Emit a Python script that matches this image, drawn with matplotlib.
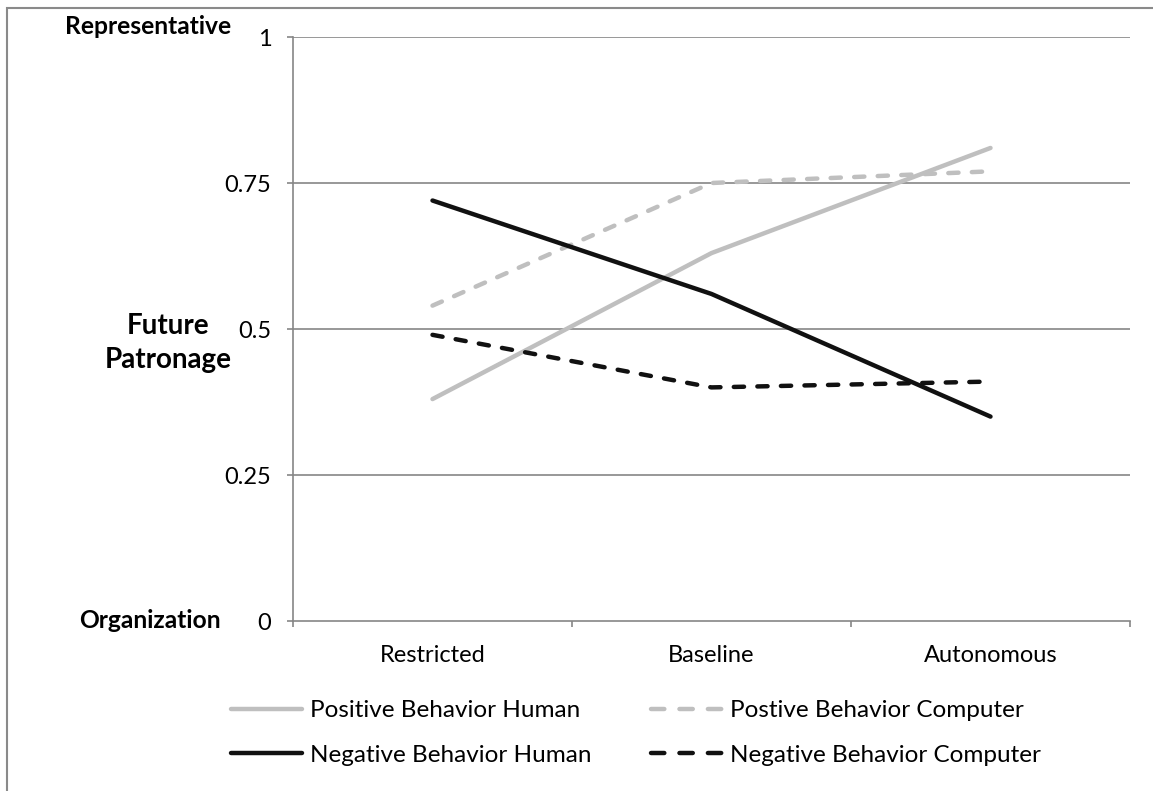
import matplotlib.pyplot as plt
from matplotlib.lines import Line2D
from matplotlib.patches import Rectangle

plt.rcParams['font.family'] = ['Lato', 'DejaVu Sans']

conditions = ['Restricted', 'Baseline', 'Autonomous']
pos_human = [0.38, 0.63, 0.81]
pos_computer = [0.54, 0.75, 0.77]
neg_human = [0.72, 0.56, 0.35]
neg_computer = [0.49, 0.40, 0.41]
yticks = [0, 0.25, 0.5, 0.75, 1]
ytick_labels = ['0', '0.25', '0.5', '0.75', '1']

light = '#bfbfbf'
dark = '#111111'
grid = '#868686'
dash = (0, (2.3, 3.0))
key_dash = (0, (3.0, 3.4))  # three whole dashes in the legend keys

fig = plt.figure(figsize=(11.53, 7.91), dpi=100)
W, H = 1153, 791
ax = fig.add_axes([293 / W, 1 - 621 / H, (1130 - 293) / W, (621 - 37) / H])

x = range(len(conditions))
ax.plot(x, pos_human, color=light, lw=3.2, solid_capstyle='round', zorder=3)
ax.plot(x, pos_computer, color=light, lw=3.2, ls=dash, dash_capstyle='round', zorder=3)
ax.plot(x, neg_human, color=dark, lw=3.2, solid_capstyle='round', zorder=4)
ax.plot(x, neg_computer, color=dark, lw=3.2, ls=dash, dash_capstyle='round', zorder=4)

ax.set_xlim(-0.5, 2.5)
ax.set_ylim(0, 1)
ax.set_yticks(yticks)
ax.set_yticklabels(ytick_labels)
ax.set_xticks([-0.5, 0.5, 1.5, 2.5])
ax.set_xticklabels([])
ax.set_xticks(list(x), conditions, minor=True)
ax.tick_params(axis='x', which='minor', length=0, pad=17, labelsize=17)
ax.tick_params(axis='x', which='major', length=4.5, color=grid, width=1.2)
ax.tick_params(axis='y', length=4.5, color=grid, width=1.2, pad=11, labelsize=17)
for yv in yticks[1:]:
    ax.axhline(yv, color=grid, lw=1.2, zorder=1)
for side in ['top', 'right']:
    ax.spines[side].set_visible(False)
for side in ['left', 'bottom']:
    ax.spines[side].set_color(grid)
    ax.spines[side].set_linewidth(1.2)

fig.text(148 / W, 1 - 27 / H, 'Representative', ha='center', va='center',
         fontsize=17.7, fontweight='bold')
fig.text(168 / W, 1 - 343 / H, 'Future\nPatronage', ha='center', va='center',
         fontsize=20, fontweight='bold', linespacing=1.35)
fig.text(150 / W, 1 - 621 / H, 'Organization', ha='center', va='center',
         fontsize=17.7, fontweight='bold')

handles = [
    Line2D([], [], color=light, lw=3.2, solid_capstyle='round'),
    Line2D([], [], color=dark, lw=3.2, solid_capstyle='round'),
    Line2D([], [], color=light, lw=3.2, ls=key_dash, dash_capstyle='round'),
    Line2D([], [], color=dark, lw=3.2, ls=key_dash, dash_capstyle='round'),
]
labels = ['Positive Behavior Human', 'Negative Behavior Human',
          'Postive Behavior Computer', 'Negative Behavior Computer']
fig.legend(handles, labels, ncol=2, frameon=False, fontsize=17.5,
           loc='center left', bbox_to_anchor=(219 / W, 1 - 733 / H),
           handlelength=2.9, handletextpad=0.35, columnspacing=2.45,
           labelspacing=0.95, borderpad=0)

fig.add_artist(Rectangle((7 / W, -0.1), 1.2, 1 - 8 / H + 0.1,
                         transform=fig.transFigure, fill=False,
                         edgecolor='#8a8a8a', lw=1.5))

fig.savefig('out.png', dpi=100)
